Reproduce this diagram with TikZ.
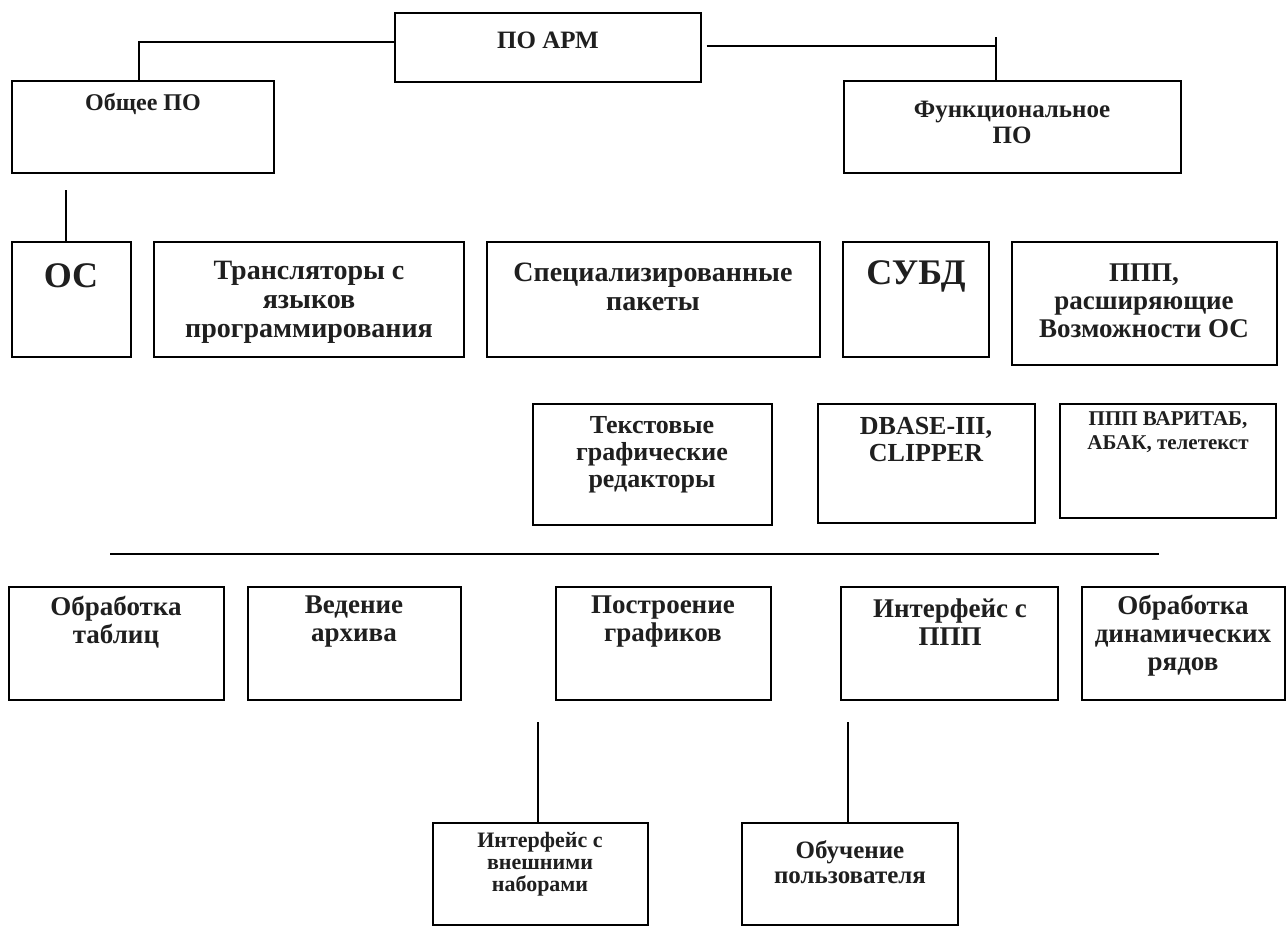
\documentclass[tikz,border=0pt]{standalone}
\usepackage{fontspec}
\setmainfont{Liberation Serif}
\newcommand\fz[2]{\fontsize{#1pt}{#2pt}\selectfont\bfseries}
\newcommand\mkbox[5]{\node[pbox, minimum width={#4pt-#2pt}, minimum height={#5pt-#3pt}] (#1) at ({(#2+#4)/2},{(#3+#5)/2}) {};}
\tikzset{
  pbox/.style={draw, line width=1.4pt, inner sep=0pt, fill=white},
  lbl/.style={align=center, inner sep=0pt, text=black!88},
  conn/.style={line width=1.3pt},
}
\begin{document}
\begin{tikzpicture}[x=1pt,y=-1pt]
\useasboundingbox (0,0) rectangle (1288,927);
% row 1
\mkbox{PA}{395}{13}{701}{82}
\mkbox{OB}{12}{81}{274}{173}
\mkbox{FN}{844}{81}{1181}{173}
\node[lbl, font=\fz{25}{25}] (tPA) at (548,40) {ПО АРМ};
\node[lbl, font=\fz{24}{24}] (tOB) at (143,104) {Общее ПО};
\node[lbl, font=\fz{25}{26}] (tFN) at (1012,122) {Функциональное\\ПО};
\coordinate (jl) at (139,42);
\coordinate (jr) at (996,46);
\coordinate (jrt) at (996,37);
\draw[conn] (PA.west|-jl) -- (jl) -- (jl|-OB.north);
\draw[conn] ([xshift=5pt]PA.east|-jr) -- (jr);
\draw[conn] (jrt) -- (jrt|-FN.north);
% row 2
\mkbox{OS}{12}{242}{131}{357}
\mkbox{TR}{154}{242}{464}{357}
\mkbox{SP}{487}{242}{820}{357}
\mkbox{SU}{843}{242}{989}{357}
\mkbox{PP}{1012}{242}{1277}{365}
\node[lbl, font=\fz{36}{36}] (tOS) at (71,276) {ОС};
\node[lbl, font=\fz{28}{29}] (tTR) at (309,302) {Трансляторы с\\языков\\программирования};
\node[lbl, font=\fz{28}{29}] (tSP) at (653,287) {Специализированные\\пакеты};
\node[lbl, font=\fz{36}{36}] (tSU) at (916,276) {СУБД};
\node[lbl, font=\fz{27}{28}] (tPP) at (1144,301) {ППП,\\расширяющие\\Возможности ОС};
\coordinate (osl) at (66,190);
\draw[conn] (osl) -- (osl|-OS.north);
% row 3
\mkbox{TX}{533}{404}{772}{525}
\mkbox{DB}{818}{404}{1035}{523}
\mkbox{VT}{1060}{404}{1276}{518}
\node[lbl, font=\fz{26}{27}] (tTX) at (652,455) {Текстовые\\графические\\редакторы};
\node[lbl, font=\fz{26}{27}] (tDB) at (926,440) {DBASE-III,\\CLIPPER};
\node[lbl, font=\fz{21}{24}] (tVT) at (1168,432) {ППП ВАРИТАБ,\\АБАК, телетекст};
% separator
\coordinate (hl) at (110,554);
\coordinate (hr) at (1159,554);
\draw[conn] (hl) -- (hr);
% row 4
\mkbox{RA}{9}{587}{224}{700}
\mkbox{RB}{248}{587}{461}{700}
\mkbox{RC}{556}{587}{771}{700}
\mkbox{RD}{841}{587}{1058}{700}
\mkbox{RE}{1082}{587}{1285}{700}
\node[lbl, font=\fz{27}{28}] (tRA) at (116,622) {Обработка\\таблиц};
\node[lbl, font=\fz{27}{28}] (tRB) at (354,622) {Ведение\\архива};
\node[lbl, font=\fz{27}{28}] (tRC) at (663,622) {Построение\\графиков};
\node[lbl, font=\fz{27}{28}] (tRD) at (950,622) {Интерфейс с\\ППП};
\node[lbl, font=\fz{27}{28}] (tRE) at (1183,636) {Обработка\\динамических\\рядов};
% row 5
\mkbox{BA}{433}{823}{648}{925}
\mkbox{BB}{742}{823}{958}{925}
\node[lbl, font=\fz{22}{22}] (tBA) at (540,864) {Интерфейс с\\внешними\\наборами};
\node[lbl, font=\fz{25}{25}] (tBB) at (850,862) {Обучение\\пользователя};
\coordinate (va) at (538,722);
\coordinate (vb) at (848,722);
\draw[conn] (va) -- (va|-BA.north);
\draw[conn] (vb) -- (vb|-BB.north);
\end{tikzpicture}
\end{document}
